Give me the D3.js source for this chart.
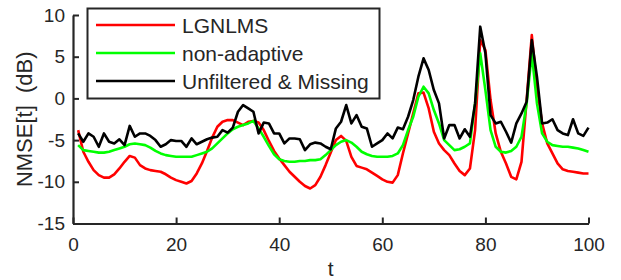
<!DOCTYPE html>
<html>
<head>
<meta charset="utf-8">
<script src="https://cdn.jsdelivr.net/npm/d3@7"></script>
<style>
  body { margin: 0; background: #fff; }
  svg text { font-family: Arial, "Liberation Sans", Helvetica, sans-serif; fill: #262626; }
</style>
</head>
<body>
<svg id="chart" width="621" height="280"></svg>
<script>
var seriesNames = ['LGNLMS', 'non-adaptive', 'Unfiltered & Missing'];
var seriesColors = ['#ff0000', '#00ff00', '#000000'];

var lgnlms = [
  -3.8, -6.4, -7.6, -8.6, -9.2, -9.5, -9.5, -9.1, -8.4, -7.6,
  -6.9, -7.1, -8.0, -8.4, -8.6, -8.7, -8.8, -9.1, -9.5, -9.8,
  -10.0, -10.2, -9.9, -9.0, -7.8, -6.3, -4.7, -3.4, -2.8, -2.6,
  -2.6, -2.9, -3.2, -2.8, -2.7, -2.9, -3.8, -5.1, -6.3, -7.2,
  -8.0, -8.8, -9.4, -10.0, -10.5, -10.8, -10.4, -9.4, -8.0, -6.5,
  -5.0, -4.5, -5.1, -7.0, -8.1, -8.3, -8.5, -8.9, -9.3, -9.7,
  -10.0, -10.1, -9.2, -6.6, -4.2, -1.8, 0.6, 0.7, -1.2, -4.0,
  -5.4, -6.2, -6.8, -7.8, -8.7, -9.2, -8.4, -3.8, 7.0, 5.8,
  -0.2, -4.2, -6.4, -7.8, -9.4, -9.7, -7.6, -0.2, 7.6, 1.4,
  -3.0, -5.4, -6.6, -7.8, -8.5, -8.7, -8.8, -8.9, -9.0, -9.0
];

var nonAdaptive = [
  -5.6, -6.2, -6.3, -6.4, -6.5, -6.5, -6.4, -6.2, -6.0, -5.8,
  -5.5, -5.4, -5.5, -5.6, -5.9, -6.3, -6.6, -6.8, -6.9, -7.0,
  -7.0, -7.0, -7.0, -6.8, -6.6, -6.4, -6.0, -5.4, -4.8, -4.2,
  -3.7, -3.4, -3.2, -3.0, -2.7, -3.6, -4.6, -5.7, -6.7, -7.3,
  -7.5, -7.6, -7.6, -7.5, -7.5, -7.4, -7.4, -7.3, -6.8, -6.2,
  -5.6, -5.2, -5.0, -5.3, -5.8, -6.4, -6.7, -6.9, -7.0, -7.0,
  -7.0, -6.9, -6.6, -5.6, -3.8, -2.2, 0.2, 1.4, 0.6, -1.4,
  -3.0, -5.0, -5.6, -6.2, -6.1, -5.8, -5.4, -0.6, 5.4, 1.0,
  -3.8, -5.8, -6.4, -6.5, -6.3, -5.8, -4.6, -0.6, 5.4, -0.6,
  -4.2, -5.2, -5.6, -5.7, -5.8, -5.8, -5.9, -6.0, -6.2, -6.4
];

var unfiltered = [
  -4.2, -5.2, -4.2, -4.6, -5.8, -4.2, -5.2, -5.4, -4.9, -5.6,
  -3.3, -4.6, -4.2, -4.2, -4.5, -5.0, -5.8, -5.5, -5.0, -5.1,
  -5.1, -5.8, -4.8, -5.5, -5.2, -4.9, -4.7, -4.6, -3.8, -4.1,
  -3.5, -1.6, -0.8, -1.2, -1.6, -4.2, -2.9, -3.0, -4.2, -4.2,
  -5.4, -4.8, -4.8, -4.9, -6.2, -5.5, -5.3, -5.4, -5.8, -6.1,
  -3.6, -2.8, -0.8, -3.0, -2.0, -3.4, -3.6, -5.8, -5.4, -5.0,
  -4.2, -4.8, -3.5, -3.7, -2.2, -0.2, 2.6, 4.8, 3.4, 1.0,
  -0.6, -4.8, -3.2, -3.2, -4.8, -3.7, -4.6, -0.6, 8.6, 5.4,
  -2.0, -3.0, -2.8, -4.0, -5.3, -3.0, -1.8, -0.4, 7.0, 2.6,
  -3.0, -2.9, -2.5, -3.8, -4.2, -4.4, -2.5, -4.2, -4.5, -3.5
];

var xTicks = [0, 20, 40, 60, 80, 100];
var yTicks = [-15, -10, -5, 0, 5, 10];

var svg = d3.select('#chart');
var axisColor = '#262626';

var x = d3.scaleLinear().domain([0, 100]).range([73, 588.5]);
var y = d3.scaleLinear().domain([-15, 10]).range([223.5, 15]);

// axes: left and bottom only, ticks pointing inward
var xAxis = svg.append('g')
  .attr('transform', 'translate(0,' + y(-15) + ')')
  .call(d3.axisBottom(x).tickValues(xTicks).tickSizeInner(-6).tickSizeOuter(0).tickPadding(14));
var yAxis = svg.append('g')
  .attr('transform', 'translate(' + x(0) + ',0)')
  .call(d3.axisLeft(y).tickValues(yTicks).tickSizeInner(-6).tickSizeOuter(0).tickPadding(8)
    .tickFormat(function(d) { return String(d); }));

[xAxis, yAxis].forEach(function(ax) {
  ax.select('.domain').attr('stroke', axisColor).attr('stroke-width', 2.2);
  ax.selectAll('.tick line').attr('stroke', axisColor).attr('stroke-width', 2);
  ax.selectAll('.tick text').attr('fill', axisColor)
    .style('font-size', '19px').style('font-family', 'Arial, "Liberation Sans", sans-serif');
});

// lines
var line = d3.line()
  .x(function(d, i) { return x(i + 1); })
  .y(function(d) { return y(d); });

[lgnlms, nonAdaptive, unfiltered].forEach(function(values, k) {
  svg.append('path')
    .datum(values)
    .attr('fill', 'none')
    .attr('stroke', seriesColors[k])
    .attr('stroke-width', 2.6)
    .attr('stroke-linejoin', 'round')
    .attr('d', line);
});

// axis labels
svg.append('text')
  .attr('x', (x(0) + x(100)) / 2)
  .attr('y', 276)
  .attr('text-anchor', 'middle')
  .style('font-size', '21px')
  .text('t');

svg.append('text')
  .attr('transform', 'translate(32,' + ((y(10) + y(-15)) / 2) + ') rotate(-90)')
  .attr('text-anchor', 'middle')
  .style('font-size', '22px')
  .style('white-space', 'pre')
  .text('NMSE[t]  (dB)');

// legend
var legend = svg.append('g');
legend.append('rect')
  .attr('x', 87.5).attr('y', 8.5)
  .attr('width', 292).attr('height', 90)
  .attr('fill', '#fff')
  .attr('stroke', axisColor)
  .attr('stroke-width', 2);

var rowY = [25, 53, 81];
seriesNames.forEach(function(name, k) {
  legend.append('line')
    .attr('x1', 96).attr('x2', 175)
    .attr('y1', rowY[k]).attr('y2', rowY[k])
    .attr('stroke', seriesColors[k])
    .attr('stroke-width', 2.6);
  legend.append('text')
    .attr('x', 182)
    .attr('y', rowY[k] + 7.5)
    .style('font-size', '21px')
    .text(name);
});
</script>
</body>
</html>
